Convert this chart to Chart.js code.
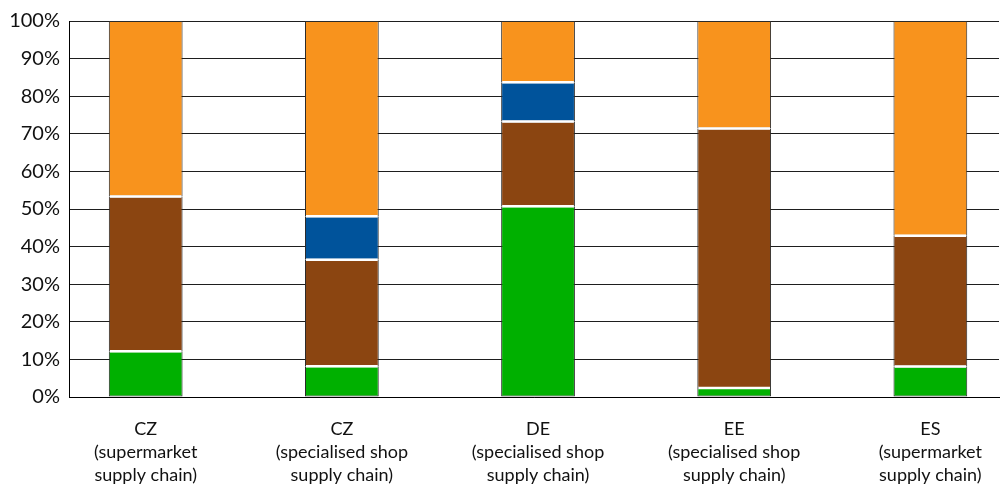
<!DOCTYPE html>
<html>
<head>
<meta charset="utf-8">
<script src="https://cdn.jsdelivr.net/npm/chart.js@4.4.1/dist/chart.umd.min.js"></script>
<style>
  html, body { margin: 0; padding: 0; background: #fff; }
  #wrap { width: 1003px; height: 486px; }
</style>
</head>
<body>
<div id="wrap"><canvas id="barChart"></canvas></div>
<script>
// categories and their sub labels
var countries = ['CZ', 'CZ', 'DE', 'EE', 'ES'];
var chains = [
    ['(supermarket', 'supply chain)'],
    ['(specialised shop', 'supply chain)'],
    ['(specialised shop', 'supply chain)'],
    ['(specialised shop', 'supply chain)'],
    ['(supermarket', 'supply chain)']
];

// shares in percent, bottom to top
var greenPart = [12.2, 8.2, 50.7, 2.4, 8.1];
var brownPart = [41.1, 28.3, 22.6, 69.0, 34.8];
var bluePart = [null, 11.6, 10.4, null, null];
var orangePart = [46.7, 51.9, 16.3, 28.6, 57.1];

var yTicks = [0, 10, 20, 30, 40, 50, 60, 70, 80, 90, 100];

var font = 'Lato, "Open Sans", sans-serif';

function points(arr) {
    return arr.map(function (v, i) { return { x: i, y: v }; });
}

// white gaps between stacked segments, like the original
var gapLines = {
    id: 'gapLines',
    afterDatasetsDraw: function (chart) {
        var c = chart.ctx;
        c.save();
        c.strokeStyle = '#ffffff';
        c.lineWidth = 2.5;
        for (var d = 0; d < chart.data.datasets.length - 1; d++) {
            var meta = chart.getDatasetMeta(d);
            meta.data.forEach(function (el, i) {
                if (chart.data.datasets[d].data[i].y == null) return;
                var half = el.width / 2;
                c.beginPath();
                c.moveTo(el.x - half + 1, el.y);
                c.lineTo(el.x + half - 1, el.y);
                c.stroke();
            });
        }
        c.restore();
    }
};

var ctx = document.getElementById('barChart').getContext('2d');
var myChart = new Chart(ctx, {
    type: 'bar',
    data: {
        datasets: [
            { label: 'green', data: points(greenPart), backgroundColor: '#00b000' },
            { label: 'brown', data: points(brownPart), backgroundColor: '#8b4511' },
            { label: 'blue', data: points(bluePart), backgroundColor: '#00539b' },
            { label: 'orange', data: points(orangePart), backgroundColor: '#f8931d' }
        ]
    },
    options: {
        responsive: true,
        maintainAspectRatio: false,
        animation: false,
        layout: { padding: { top: 19, left: 0, right: 0, bottom: 0 } },
        datasets: {
            bar: {
                borderColor: '#2b2b2b',
                borderWidth: 1,
                borderSkipped: false,
                barPercentage: 1,
                categoryPercentage: 0.376
            }
        },
        plugins: {
            legend: { display: false },
            tooltip: { enabled: false }
        },
        scales: {
            x: {
                type: 'linear',
                stacked: true,
                offset: false,
                min: -0.391,
                max: 4.35,
                grid: { display: false, drawTicks: false, offset: false },
                border: { display: true, color: '#000', width: 1 },
                afterBuildTicks: function (scale) {
                    scale.ticks = countries.map(function (c, i) { return { value: i }; });
                },
                afterFit: function (scale) { scale.height = 89; },
                ticks: {
                    padding: 21,
                    maxRotation: 0,
                    autoSkip: false,
                    color: '#111',
                    font: { family: font, size: 18, lineHeight: '23px' },
                    callback: function (v) {
                        return [countries[v]].concat(chains[v]);
                    }
                }
            },
            y: {
                stacked: true,
                min: 0,
                max: 100,
                afterBuildTicks: function (scale) {
                    scale.ticks = yTicks.map(function (v) { return { value: v }; });
                },
                afterFit: function (scale) { scale.width = 69; },
                grid: { color: '#1e1e1e', lineWidth: 1, drawTicks: false },
                border: { display: true, color: '#000', width: 1 },
                ticks: {
                    padding: 9,
                    color: '#111',
                    font: { family: font, size: 20 },
                    callback: function (v) { return v + '%'; }
                }
            }
        }
    },
    plugins: [gapLines]
});
</script>
</body>
</html>
